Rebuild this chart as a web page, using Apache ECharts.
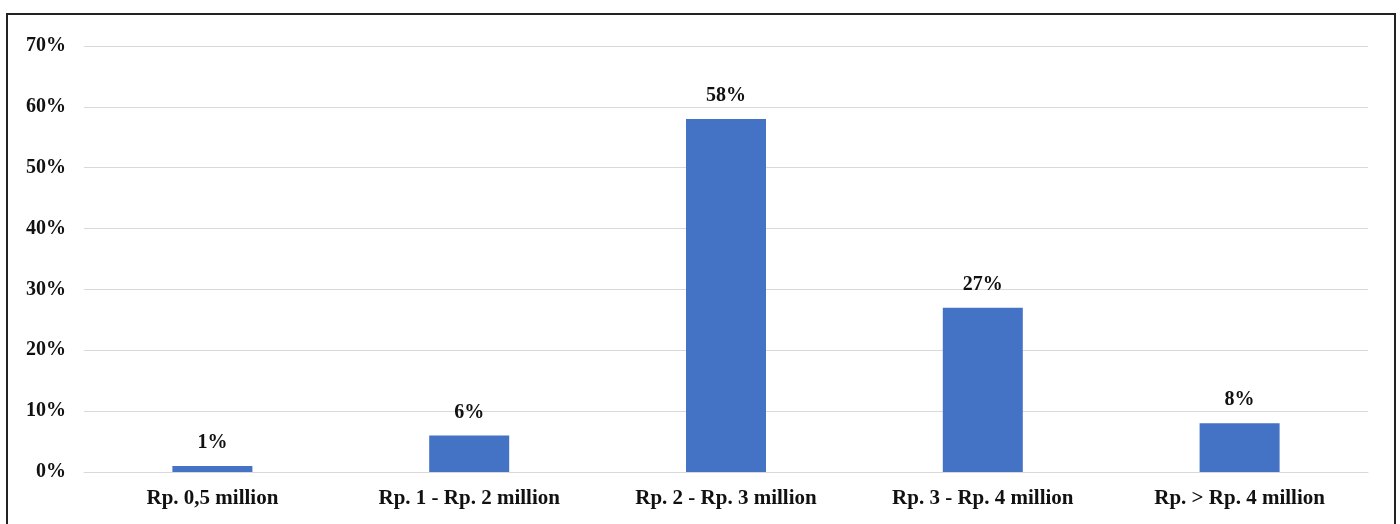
<!DOCTYPE html>
<html>
<head>
<meta charset="utf-8">
<script src="https://cdn.jsdelivr.net/npm/echarts@6/dist/echarts.min.js"></script>
<style>
  html, body { margin: 0; padding: 0; background: #fff; }
  #chart { width: 1400px; height: 524px; }
</style>
</head>
<body>
<div id="chart"></div>
<script>
// Income brackets and share of respondents (%)
const categories = ['Rp. 0,5 million', 'Rp. 1 - Rp. 2 million', 'Rp. 2 - Rp. 3 million', 'Rp. 3 - Rp. 4 million', 'Rp. > Rp. 4 million'];
const shares = [1, 6, 58, 27, 8];
const yTicks = { min: 0, max: 70, interval: 10 };

const serif = '"Liberation Serif", "DejaVu Serif", serif';
const chart = echarts.init(document.getElementById('chart'), null, { renderer: 'canvas' });

chart.setOption({
  animation: false,
  backgroundColor: '#ffffff',
  graphic: [{
    type: 'rect',
    shape: { x: 7, y: 14, width: 1388, height: 530 },
    style: { fill: 'none', stroke: '#222', lineWidth: 2 },
    silent: true
  }],
  grid: { left: 84, right: 32, top: 46, bottom: 52, containLabel: false },
  xAxis: {
    type: 'category',
    data: categories,
    axisLine: { show: true, lineStyle: { color: '#d9d9d9', width: 1 } },
    axisTick: { show: false },
    axisLabel: {
      margin: 16,
      color: '#111',
      fontFamily: serif,
      fontWeight: 'bold',
      fontSize: 21
    }
  },
  yAxis: {
    type: 'value',
    min: yTicks.min,
    max: yTicks.max,
    interval: yTicks.interval,
    axisLine: { show: false },
    axisTick: { show: false },
    splitLine: { lineStyle: { color: '#d9d9d9', width: 1 } },
    axisLabel: {
      margin: 18,
      color: '#111',
      fontFamily: serif,
      fontWeight: 'bold',
      fontSize: 20,
      formatter: '{value}%'
    }
  },
  series: [{
    type: 'bar',
    data: shares,
    barWidth: 80,
    itemStyle: { color: '#4472c4' },
    label: {
      show: true,
      position: 'top',
      distance: 13,
      color: '#111',
      fontFamily: serif,
      fontWeight: 'bold',
      fontSize: 20,
      formatter: '{c}%'
    }
  }]
});
</script>
</body>
</html>
